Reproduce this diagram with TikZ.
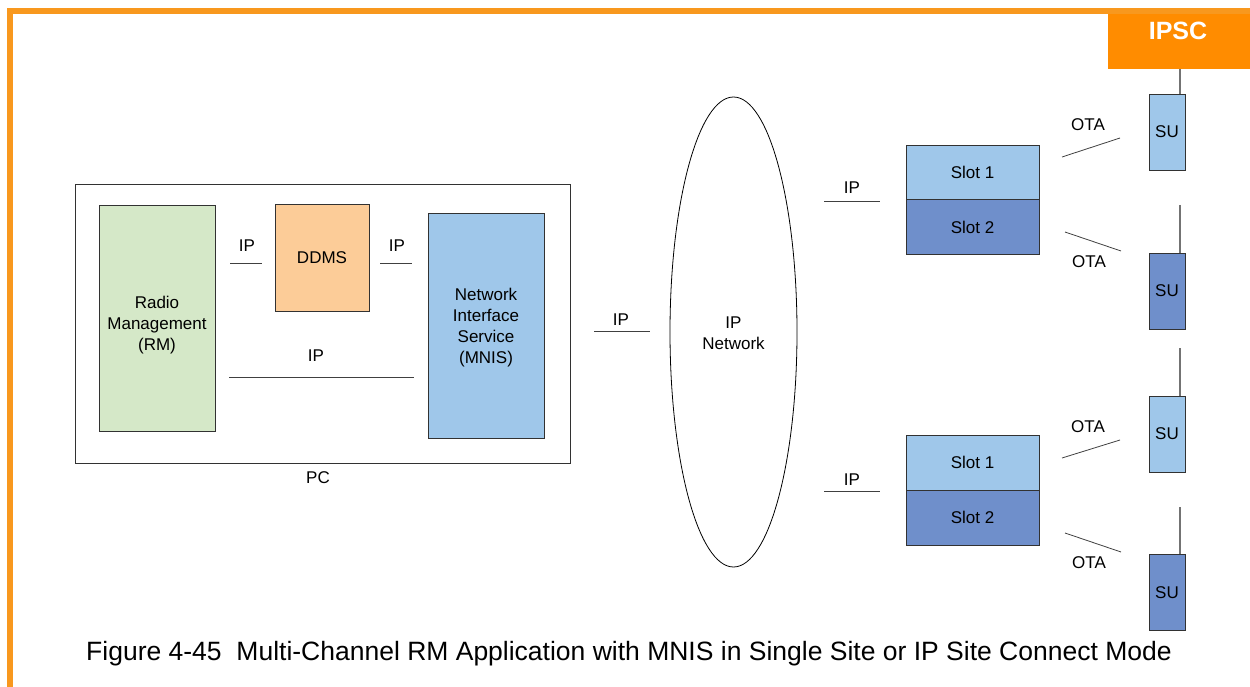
\documentclass[tikz,border=0pt]{standalone}
\usepackage{fontspec}
\setmainfont{Liberation Sans}
\usetikzlibrary{shapes.geometric}
\definecolor{brd}{RGB}{248,152,30}
\definecolor{ipsc}{RGB}{255,140,0}
\definecolor{lblue}{RGB}{159,199,234}
\definecolor{dblue}{RGB}{111,143,203}
\definecolor{rmgreen}{RGB}{213,232,200}
\definecolor{ddms}{RGB}{252,204,152}
\definecolor{edge}{RGB}{50,50,50}
\begin{document}
\begin{tikzpicture}[x=1pt,y=-1pt,
  every node/.style={font=\fontsize{17}{21}\selectfont, inner sep=0pt},
  box/.style={draw=edge, line width=0.8pt, rectangle, align=center},
  wire/.style={draw=black!75, line width=0.8pt},
  ant/.style={draw=black!55, line width=1.2pt},
  su/.style={box, minimum width=36pt, minimum height=76pt},
  slotbox/.style={box, minimum width=133pt, minimum height=55pt},
  lbl/.style={text=black}
]
\useasboundingbox (0,0) rectangle (1250,687);
% orange frame
\fill[brd] (7,8) rectangle (1250,14);
\fill[brd] (7,8) rectangle (12.7,687);
\node[fill=ipsc, minimum width=142pt, minimum height=55pt] (ipscbox) at (1179,41.5) {};
\node[text=white, font=\fontsize{25}{30}\bfseries] (ipsctxt) at (1178,31) {IPSC};

% PC
\node[box, minimum width=495pt, minimum height=279pt] (pc) at (322.5,323.5) {};
\node[lbl] (pclbl) at (318,478) {PC};
\node[box, fill=rmgreen, minimum width=116pt, minimum height=226pt] (rm) at (157,318) {};
\node[lbl, align=center] (rmtxt) at (157,325) {Radio\\Management\\(RM)};
\node[box, fill=ddms, minimum width=94pt, minimum height=107pt] (ddms) at (322,257.5) {DDMS};
\node[box, fill=lblue, minimum width=116pt, minimum height=225pt] (mnis) at (486,325.5) {};
\node[lbl, align=center] (mnistxt) at (486,327.5) {Network\\Interface\\Service\\(MNIS)};

\coordinate (w1a) at (230,263.5); \coordinate (w1b) at (262,263.5);
\coordinate (w2a) at (380,263.5); \coordinate (w2b) at (412,263.5);
\coordinate (w3a) at (229,377); \coordinate (w3b) at (414,377);
\draw[wire] (w1a) -- (w1b);
\draw[wire] (w2a) -- (w2b);
\draw[wire] (w3a) -- (w3b);
\node[lbl] (ip1) at (247,246) {IP};
\node[lbl] (ip2) at (397,246) {IP};
\node[lbl] (ip3) at (316,356) {IP};

% IP network
\coordinate (w4a) at (594,331); \coordinate (w4b) at (650,331);
\draw[wire] (w4a) -- (w4b);
\node[lbl] (ip4) at (621,320) {IP};
\node[ellipse, draw=black, line width=0.8pt, minimum width=127pt, minimum height=470pt] (net) at (733.5,332) {};
\node[lbl, align=center] (nettxt) at (733.5,333) {IP\\Network};

% slots
\node[slotbox, fill=lblue] (s1a) at (972.5,172.5) {Slot 1};
\node[slotbox, fill=dblue] (s2a) at (972.5,227) {Slot 2};
\node[slotbox, fill=lblue] (s1b) at (972.5,462.5) {Slot 1};
\node[slotbox, fill=dblue] (s2b) at (972.5,517.5) {Slot 2};
\coordinate (w5a) at (824,201); \coordinate (w5b) at (880,201);
\coordinate (w6a) at (824,491); \coordinate (w6b) at (880,491);
\draw[wire] (w5a) -- (w5b);
\draw[wire] (w6a) -- (w6b);
\node[lbl] (ip5) at (852,188) {IP};
\node[lbl] (ip6) at (852,480) {IP};

% SUs
\node[su, fill=lblue] (su1) at (1167,132) {SU};
\node[su, fill=dblue] (su2) at (1167,291) {SU};
\node[su, fill=lblue] (su3) at (1167,434) {SU};
\node[su, fill=dblue] (su4) at (1167,592.5) {SU};
\coordinate (a1) at (1180,69);
\coordinate (a2) at (1180,205);
\coordinate (a3) at (1180,348);
\coordinate (a4) at (1180,507);
\draw[ant] (a1) -- (a1 |- su1.north);
\draw[ant] (a2) -- (a2 |- su2.north);
\draw[ant] (a3) -- (a3 |- su3.north);
\draw[ant] (a4) -- (a4 |- su4.north);

% OTA
\coordinate (o1a) at (1062,157); \coordinate (o1b) at (1120,138);
\coordinate (o2a) at (1065,232); \coordinate (o2b) at (1121,251);
\coordinate (o3a) at (1062,458); \coordinate (o3b) at (1120,440);
\coordinate (o4a) at (1065,533); \coordinate (o4b) at (1121,552);
\draw[wire] (o1a) -- (o1b);
\draw[wire] (o2a) -- (o2b);
\draw[wire] (o3a) -- (o3b);
\draw[wire] (o4a) -- (o4b);
\node[lbl] (ota1) at (1088,125) {OTA};
\node[lbl] (ota2) at (1089,262) {OTA};
\node[lbl] (ota3) at (1088,427) {OTA};
\node[lbl] (ota4) at (1089,563) {OTA};

% caption
\node[font=\fontsize{26.5}{30}\selectfont] (cap) at (629,654) {Figure 4-45\ \ Multi-Channel RM Application with MNIS in Single Site or IP Site Connect Mode};
\end{tikzpicture}
\end{document}
